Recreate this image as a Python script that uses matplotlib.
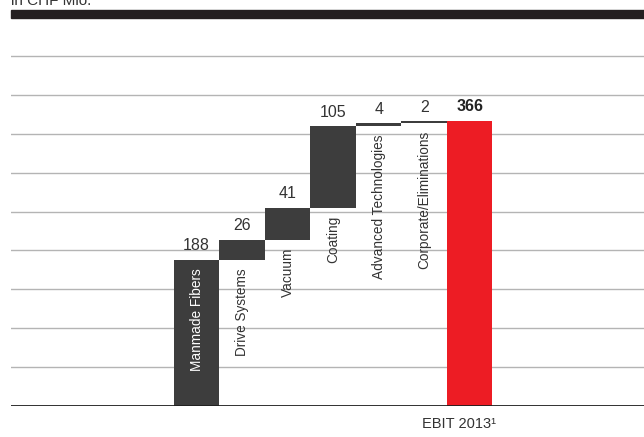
import matplotlib.pyplot as plt
from matplotlib.patches import Rectangle
import numpy as np

plt.rcParams['font.family'] = ['Liberation Sans', 'DejaVu Sans']

segments = ['Manmade Fibers', 'Drive Systems', 'Vacuum', 'Coating',
            'Advanced Technologies', 'Corporate/Eliminations']
ebit = [188, 26, 41, 105, 4, 2]
total = 366
total_label = 'EBIT 2013¹'

dark = '#3d3d3d'
red = '#ed1c24'

fig = plt.figure(figsize=(6.44, 4.37), dpi=100)
ax = fig.add_axes([11 / 644, 1 - 406 / 437, 633 / 644, 389 / 437])

bottoms = np.concatenate([[0], np.cumsum(ebit)[:-1]])
x = np.arange(len(ebit))
ax.bar(x, ebit, bottom=bottoms, width=1.0, color=dark, zorder=3)
ax.bar(len(ebit), total, width=1.0, color=red, zorder=3)

# value labels on top of each step
for xi, b, v in zip(x, bottoms, ebit):
    ax.annotate(str(v), (xi, b + v), xytext=(0, 4.5), textcoords='offset points',
                ha='center', va='bottom', fontsize=11.5, color='#333333')
ax.annotate(str(total), (len(ebit), total), xytext=(0, 5.5), textcoords='offset points',
            ha='center', va='bottom', fontsize=11.5, fontweight='bold', color='#222222')

# segment names, the first one sits inside its bar
for xi, b, v, name in zip(x, bottoms, ebit, segments):
    if xi == 0:
        ax.annotate(name, (xi, b + v), xytext=(0, -6), textcoords='offset points',
                    rotation=90, ha='center', va='top', fontsize=9.8, color='white',
                    zorder=4)
    else:
        ax.annotate(name, (xi, b), xytext=(0, -6), textcoords='offset points',
                    rotation=90, ha='center', va='top', fontsize=9.8, color='#333333',
                    zorder=4)

ax.set_xlim(-4.08, 9.83)
ax.set_ylim(0, 500)
for y in range(50, 500, 50):
    ax.axhline(y, color='#b4b4b4', lw=1.0, zorder=1)
ax.axhline(0, color='#1e1e1e', lw=2.0, zorder=5)

for s in ax.spines.values():
    s.set_visible(False)
ax.set_xticks([])
ax.set_yticks([])

ax.annotate(total_label, (len(ebit), 0), xytext=(-34, -8), textcoords='offset points',
            ha='left', va='top', fontsize=10.5, color='#333333')

# header band and unit line
fig.patches.append(Rectangle((11 / 644, 1 - 17.5 / 437), 633 / 644, 7.5 / 437,
                             transform=fig.transFigure, color='#231f20'))
fig.text(11 / 644, 1 - 5 / 437, 'in CHF Mio.', ha='left', va='baseline',
         fontsize=11, color='#333333')

fig.savefig('out.png', dpi=100)
